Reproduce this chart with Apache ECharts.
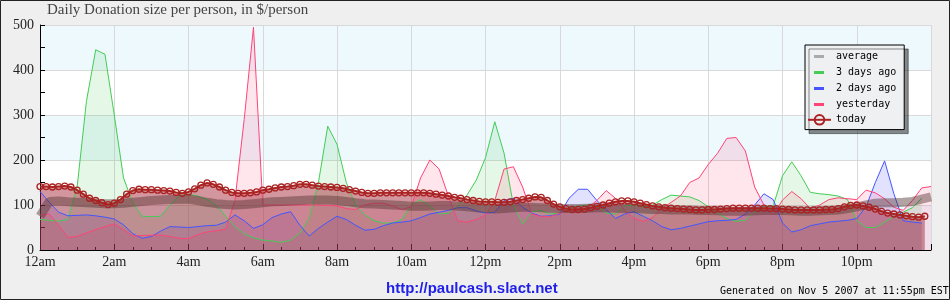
<!DOCTYPE html>
<html><head><meta charset="utf-8">
<script src="https://cdn.jsdelivr.net/npm/echarts@6/dist/echarts.min.js"></script>
<style>html,body{margin:0;padding:0;background:#efefef}#c{width:950px;height:300px}</style>
</head><body><div id="c"></div>
<script>
// x tick labels (every 2 hours)
const hourLabels = ['12am','2am','4am','6am','8am','10am','12pm','2pm','4pm','6pm','8pm','10pm'];
const legendNames = ['average','3 days ago','2 days ago','yesterday','today'];
const titleText = 'Daily Donation size per person, in $/person';
const siteText = 'http://paulcash.slact.net';
const genText = 'Generated on Nov 5 2007 at 11:55pm EST';

// older series sampled every 15 minutes (hours 0 .. 24)
const stepOld = 0.25;
const average = [
75,108,109,107, 106,105,104,103, 103,104,106,108, 110,111,112,113,
113,110,106,103, 101,100,101,103, 105,107,108,109, 110,111,111,111,
110,108,105,103, 102,101,100,99, 97,97,98,99, 99,98,96,94,
92,91,92,94, 95,95,94,93, 92,92,92,93, 94,94,93,92,
92,91,90,90, 89,89,89,88, 88,87,86,86, 86,87,88,88,
88,87,86,86, 87,88,89,92, 96,100,104,105, 105,106,108,113,
118];
const daysAgo3 = [
68,66,64,68, 140,330,445,435, 300,160,105,75, 74,75,100,120,
124,120,112,100, 75,52,36,27, 22,20,17,22, 38,70,150,275,
235,150,100,78, 65,60,60,68, 100,112,98,80, 82,98,122,155,
205,285,215,100, 58,85,88,80, 82,92,98,100, 98,82,80,98,
100,96,100,112, 122,120,118,110, 96,82,70,64, 66,86,97,98,
165,196,165,128, 125,123,120,112, 65,50,50,62, 74,84,94,115,
null];
const daysAgo2 = [
130,106,84,76, 77,78,76,73, 69,56,36,26, 30,42,52,51,
50,52,54,55, 62,78,65,48, 56,72,80,85, 55,31,48,62,
75,68,55,44, 46,54,60,62, 65,72,80,84, 88,94,94,87,
82,84,110,115, 95,82,75,76, 80,115,135,135, 110,90,70,80,
85,75,65,52, 45,48,53,58, 63,65,66,68, 80,100,125,112,
60,40,45,54, 58,62,64,66, 70,96,150,198, 125,65,62,60,
null];
const yesterday = [
78,80,55,28, 30,38,45,52, 58,45,31,32, 33,33,30,26,
25,34,40,43, 46,110,290,495, 100,100,100,100, 100,100,100,99,
98,92,90,100, 104,104,98,90, 96,160,200,180, 120,65,62,68,
78,110,180,185, 140,80,74,74, 82,90,92,94, 110,132,115,88,
70,64,72,92, 106,120,150,160, 190,215,248,250, 220,140,100,78,
111,130,114,92, 100,112,116,114, 112,133,127,114, 95,88,110,138,
141];
// today sampled every 10 minutes
const stepToday = 1/6;
const today = [
141,141,140,141,142,140, 133,124,115,110,105,101, 104,112,124,132,135,134,
134,133,132,131,128,126, 129,136,144,149,146,140, 133,128,126,126,127,129,
133,135,138,140,141,143, 146,146,144,142,141,140, 139,137,134,131,128,126,
126,127,127,127,127,127, 127,127,127,126,124,122, 120,117,115,112,110,108,
107,107,106,106,107,110, 112,115,118,117,110,102, 96,92,90,90,91,94,
97,100,104,107,109,109, 107,104,101,98,96,94, 93,92,91,90,89,89,
90,90,91,92,93,93, 93,93,93,93,92,92, 91,90,89,89,89,89,
89,90,90,92,96,99, 100,98,95,91,86,82, 80,78,76,74,73,75];

function pairs(arr, step){ return arr.map((v,i)=>[i*step, v]); }

const serifFont = 'Liberation Serif';
const monoFont = 'DejaVu Sans Mono';
const lineIcon = 'path://M0,0M23,12M6,5H16V8H6Z';

const chart = echarts.init(document.getElementById('c'), null, {renderer:'canvas'});
chart.setOption({
  animation: false,
  backgroundColor: '#efefef',
  title: [
    {text: titleText, left: 47, top: 3, padding: 0,
     textStyle:{fontFamily: serifFont, fontSize: 15, fontWeight:'normal', color:'#444'}},
    {text: siteText, left: 386, top: 281, padding: 0,
     textStyle:{fontFamily:'Liberation Sans', fontSize: 15, fontWeight:'bold', color:'#1f1fe8'}},
    {text: genText, left: 720, top: 286, padding: 0,
     textStyle:{fontFamily: monoFont, fontSize: 10, fontWeight:'normal', color:'#000'}}
  ],
  legend: {
    orient: 'vertical', left: 805, top: 45,
    padding: [5, 8, 4, 2], itemGap: 4, itemWidth: 23, itemHeight: 12,
    backgroundColor: '#eef0f2', borderColor: '#000', borderWidth: 1,
    shadowColor: 'rgba(0,0,0,0.45)', shadowOffsetX: 4, shadowOffsetY: 4, shadowBlur: 0,
    textStyle: {fontFamily: monoFont, fontSize: 10, color: '#000'},
    data: [
      {name: legendNames[0], icon: lineIcon, itemStyle:{color:'#aaaaaa'}},
      {name: legendNames[1], icon: lineIcon},
      {name: legendNames[2], icon: lineIcon},
      {name: legendNames[3], icon: lineIcon},
      {name: legendNames[4]}
    ]
  },
  grid: {left: 40, right: 19, top: 25, bottom: 50},
  xAxis: {
    type: 'value', min: 0, max: 24, interval: 2,
    axisLine: {show: true, onZero: false, lineStyle: {color: '#000', width: 1}},
    axisTick: {show: true, inside: true, length: 6, lineStyle: {color: '#000'}},
    minorTick: {show: true, splitNumber: 4, length: 3, lineStyle: {color: '#000'}},
    splitLine: {show: true, lineStyle: {color: '#d9d9d9'}},
    axisLabel: {formatter: v => hourLabels[Math.round(v/2)] || '', showMaxLabel: false, margin: 5,
      fontFamily: serifFont, fontSize: 14, color: '#222'}
  },
  yAxis: {
    type: 'value', min: 0, max: 500, interval: 100,
    axisLine: {show: true, lineStyle: {color: '#000', width: 1}},
    axisTick: {show: true, inside: true, length: 5, lineStyle: {color: '#000'}},
    minorTick: {show: true, splitNumber: 2, length: 5, lineStyle: {color: '#000'}},
    splitLine: {show: true, lineStyle: {color: '#d9d9d9'}},
    splitArea: {show: true, areaStyle: {color: ['#eef9fe', '#ffffff']}},
    axisLabel: {margin: 6, fontFamily: serifFont, fontSize: 14, color: '#222'}
  },
  series: [
    {name: legendNames[1], type: 'line', data: pairs(daysAgo3, stepOld), symbol: 'none',
     lineStyle: {color: '#44cc55', width: 1}, itemStyle: {color: '#44cc55'},
     areaStyle: {color: 'rgba(68,204,85,0.2)'}},
    {name: legendNames[2], type: 'line', data: pairs(daysAgo2, stepOld), symbol: 'none',
     lineStyle: {color: '#4455ff', width: 1}, itemStyle: {color: '#4455ff'},
     areaStyle: {color: 'rgba(51,51,255,0.2)'}},
    {name: legendNames[3], type: 'line', data: pairs(yesterday, stepOld), symbol: 'none',
     lineStyle: {color: '#ff4477', width: 1}, itemStyle: {color: '#ff4477'},
     areaStyle: {color: 'rgba(255,51,102,0.18)'}},
    {name: legendNames[0], type: 'line', data: pairs(average, stepOld), symbol: 'none',
     lineStyle: {color: 'rgba(85,50,50,0.45)', width: 9, cap: 'butt'}, itemStyle: {color: '#aaaaaa'}},
    {name: legendNames[4], type: 'line', data: pairs(today, stepToday), symbol: 'circle', symbolSize: 6,
     showAllSymbol: true,
     lineStyle: {color: '#aa2222', width: 2},
     itemStyle: {color: 'rgba(0,0,0,0)', borderColor: '#aa2222', borderWidth: 1.3},
     areaStyle: {color: 'rgba(160,28,45,0.66)'}}
  ],
  graphic: [
    {type: 'rect', silent: true, z: 100, shape: {x: 0.5, y: 0.5, width: 949, height: 299},
     style: {fill: 'none', stroke: '#222', lineWidth: 1}}
  ]
});
</script></body></html>
